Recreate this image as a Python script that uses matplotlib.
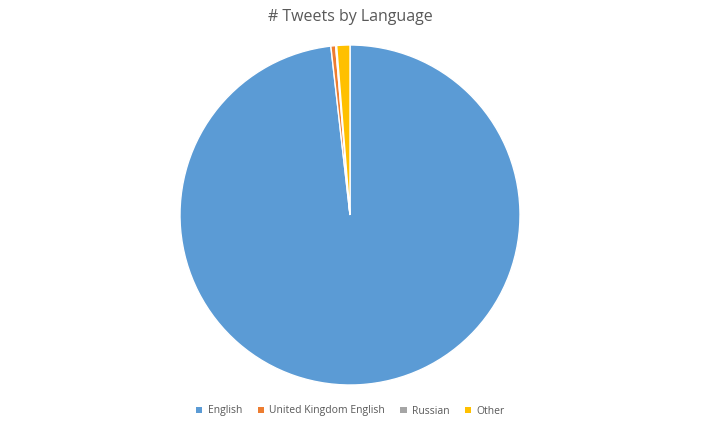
import matplotlib.pyplot as plt
from matplotlib.patches import Patch

plt.rcParams['font.family'] = ['Open Sans', 'DejaVu Sans']

languages = ['English', 'United Kingdom English', 'Russian', 'Other']
shares = [98.2, 0.45, 0.1, 1.25]
colors = ['#5B9BD5', '#ED7D31', '#A5A5A5', '#FFC000']

fig = plt.figure(figsize=(7.01, 4.30), dpi=100)
ax = fig.add_axes([(350 - 170) / 701, (215 - 170) / 430, 340 / 701, 340 / 430])
ax.pie(shares, colors=colors, startangle=90, counterclock=False,
       wedgeprops={'edgecolor': 'white', 'linewidth': 1.0})
ax.set_xlim(-1.0, 1.0)
ax.set_ylim(-1.0, 1.0)
ax.set_aspect('equal')

fig.text(0.5, 1 - 17 / 430, '# Tweets by Language', ha='center', va='center',
         fontsize=11.5, color='#595959')

handles = [Patch(facecolor=c, edgecolor='none') for c in colors]
fig.legend(handles, languages, loc='center', bbox_to_anchor=(0.5, 1 - 411 / 430),
           ncol=4, frameon=False, fontsize=7.5, labelcolor='#595959',
           handlelength=0.6, handleheight=0.6, handletextpad=0.5, columnspacing=1.5)

fig.savefig('out.png', dpi=100)
